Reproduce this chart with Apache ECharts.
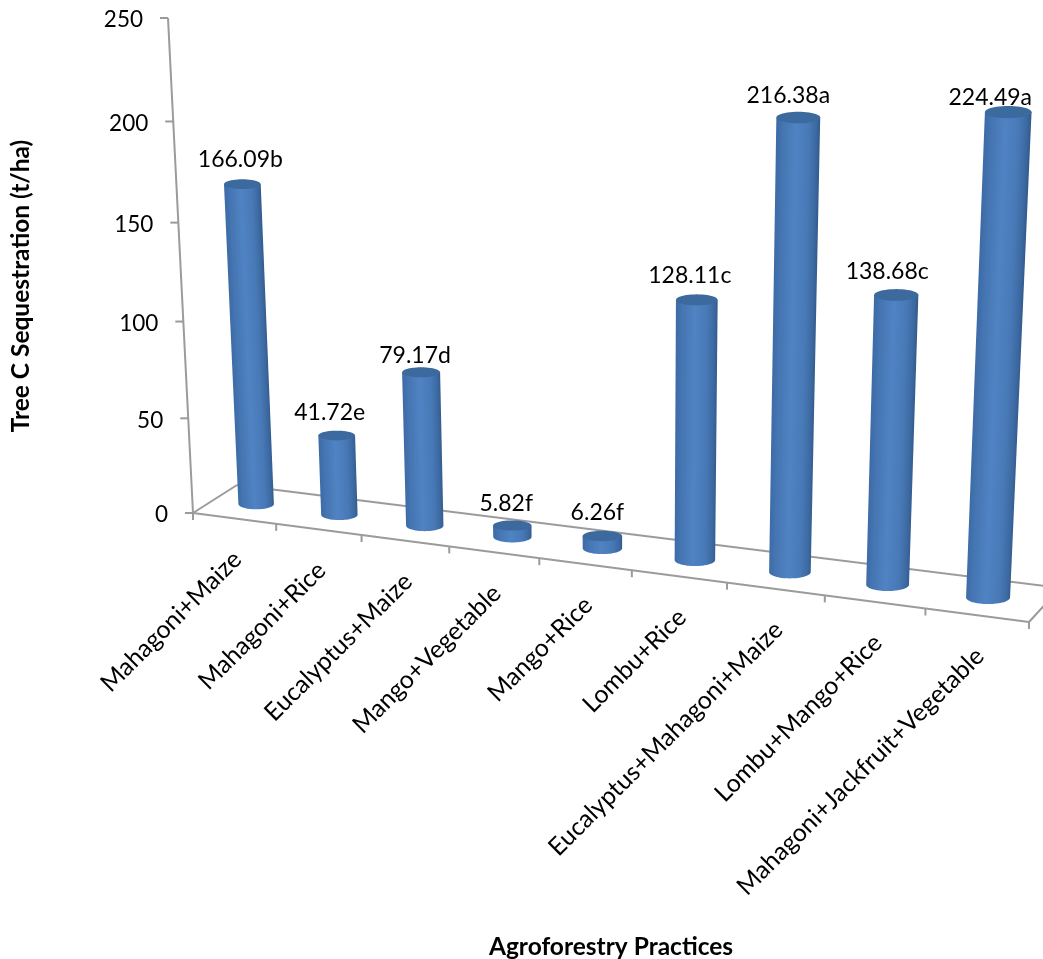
<!DOCTYPE html>
<html>
<head>
<meta charset="utf-8">
<title>Tree C Sequestration</title>
<style>
  html, body { margin: 0; padding: 0; background: #fff; overflow: hidden; }
  #chart { width: 1043px; height: 959px; }
</style>
<script src="https://cdn.jsdelivr.net/npm/echarts@6/dist/echarts.min.js"></script>
</head>
<body>
<div id="chart"></div>
<script>
// Chart data
const categories = [
  'Mahagoni+Maize', 'Mahagoni+Rice', 'Eucalyptus+Maize', 'Mango+Vegetable', 'Mango+Rice',
  'Lombu+Rice', 'Eucalyptus+Mahagoni+Maize', 'Lombu+Mango+Rice', 'Mahagoni+Jackfruit+Vegetable'
];
const carbonValues = [166.09, 41.72, 79.17, 5.82, 6.26, 128.11, 216.38, 138.68, 224.49];
const significance = ['b', 'e', 'd', 'f', 'f', 'c', 'a', 'c', 'a'];
const valueTicks = [0, 50, 100, 150, 200, 250];

// Three-point perspective: plot-space (u across, v depth, w height), each 0..1, to pixels.
const FRONT_LEFT = [193, 513], FRONT_RIGHT = [1029, 622], BACK_LEFT = [237, 485], TOP_LEFT = [168, 18];
const WEIGHT_U = -0.116, WEIGHT_V = 0.032, WEIGHT_W = -0.054;
function project(u, v, w) {
  const den = 1 + WEIGHT_U * u + WEIGHT_V * v + WEIGHT_W * w;
  const axis = k => FRONT_LEFT[k]
    + u * ((1 + WEIGHT_U) * FRONT_RIGHT[k] - FRONT_LEFT[k])
    + v * ((1 + WEIGHT_V) * BACK_LEFT[k] - FRONT_LEFT[k])
    + w * ((1 + WEIGHT_W) * TOP_LEFT[k] - FRONT_LEFT[k]);
  return [axis(0) / den, axis(1) / den];
}

const FONT = 'Lato, "Open Sans", sans-serif';
const LINE = { stroke: '#9b9b9b', lineWidth: 2, fill: null };
const AXIS_TICK = 8, TICK_SIZE = 22.5, CAPTION_SIZE = 23, NAME_SIZE = 24.8, TITLE_SIZE = 24.5;
const BAR_DEPTH = 0.5, BAR_RADIUS = 0.024, TOP_FLATNESS = 0.265, BASE_FLATNESS = 0.3;
const SIDE_EDGE_END = [1061, 587];
// Hand placement of the value captions relative to each bar's top
const captionShift = [[-2, -25], [-7, -23], [-6, -17], [-6, -22], [-5, -23], [-7, -24], [-10, -22], [-9, -23], [-18, -15]];

// Plot-space fractions from the hidden cartesian axes
function fractions(params, api, cat, value) {
  const cs = params.coordSys, p = api.coord([cat, value]);
  return { u: (p[0] - cs.x) / cs.width, w: (cs.y + cs.height - p[1]) / cs.height };
}
function segment(a, b, style) {
  return { type: 'line', shape: { x1: a[0], y1: a[1], x2: b[0], y2: b[1] }, style: style || LINE };
}

function renderFrame(params, api) {
  const children = [];
  const halfBand = api.size([1, 0])[0] / 2 / params.coordSys.width;
  const floorStart = fractions(params, api, 0, 0).u - halfBand;
  const floorEnd = fractions(params, api, categories.length - 1, 0).u + halfBand;
  const fl = project(floorStart, 0, 0), fr = project(floorEnd, 0, 0);
  const bl = project(floorStart, 1, 0), br = project(floorEnd, 1, 0);

  // Floor outline
  children.push(segment(bl, br), segment(fl, bl), segment(fr, SIDE_EDGE_END), segment(fl, fr));

  // Value axis along the left wall
  const top = fractions(params, api, 0, valueTicks[valueTicks.length - 1]).w;
  children.push(segment(fl, project(floorStart, 0, top)));
  valueTicks.forEach(t => {
    const p = project(floorStart, 0, fractions(params, api, 0, t).w);
    children.push(segment([p[0] - AXIS_TICK, p[1]], p));
    children.push({
      type: 'text', x: p[0] - AXIS_TICK - 17, y: p[1] + 2,
      style: { text: String(t), textAlign: 'right', textVerticalAlign: 'middle', fill: '#000', font: TICK_SIZE + 'px ' + FONT }
    });
  });

  // Category ticks and slanted names along the front edge
  categories.forEach((name, i) => {
    const mid = fractions(params, api, i, 0).u;
    const t = project(mid + halfBand, 0, 0);
    children.push(segment(t, [t[0], t[1] + 7]));
    const m = project(mid, 0, 0);
    children.push({
      type: 'text', x: m[0] + 3, y: m[1] + 37, rotation: Math.PI / 4,
      style: { text: name, textAlign: 'right', textVerticalAlign: 'middle', fill: '#000', font: NAME_SIZE + 'px ' + FONT }
    });
  });
  children.push(segment(fl, [fl[0], fl[1] + 7]));
  return { type: 'group', children };
}

function ellipsePoints(c, rx, ry, from, to, steps) {
  const pts = [];
  for (let s = 0; s <= steps; s++) {
    const t = from + (to - from) * s / steps;
    pts.push([c[0] + rx * Math.cos(t), c[1] + ry * Math.sin(t)]);
  }
  return pts;
}

function renderBar(params, api) {
  const cat = api.value(0), val = api.value(1);
  const { u, w } = fractions(params, api, cat, val);
  const top = project(u, BAR_DEPTH, w), base = project(u, BAR_DEPTH, 0);
  const radius = wv => (project(u + BAR_RADIUS, BAR_DEPTH, wv)[0] - project(u - BAR_RADIUS, BAR_DEPTH, wv)[0]) / 2;
  const rTop = radius(w), rBase = radius(0);

  // Cylinder wall: top rim across, then down and around the near half of the base
  const wall = [[top[0] - rTop, top[1]], [top[0] + rTop, top[1]]]
    .concat(ellipsePoints(base, rBase, rBase * BASE_FLATNESS, 0, Math.PI, 32));

  // Shading runs square to the leaning axis of the cylinder
  const ax = top[0] - base[0], ay = top[1] - base[1], len = Math.hypot(ax, ay) || 1;
  const nx = -ay / len, ny = ax / len;
  const mx = (top[0] + base[0]) / 2, my = (top[1] + base[1]) / 2, rm = (rTop + rBase) / 2;
  const wallFill = new echarts.graphic.LinearGradient(
    mx - nx * rm, my - ny * rm, mx + nx * rm, my + ny * rm,
    [
      { offset: 0, color: '#3c6ba6' }, { offset: 0.15, color: '#4575b2' },
      { offset: 0.45, color: '#5083c3' }, { offset: 0.75, color: '#4879b7' },
      { offset: 0.93, color: '#3b689f' }, { offset: 1, color: '#345b8e' }
    ], true);

  return {
    type: 'group',
    children: [
      { type: 'polygon', shape: { points: wall }, style: { fill: wallFill } },
      {
        type: 'polygon',
        shape: { points: ellipsePoints(top, rTop, rTop * TOP_FLATNESS, 0, Math.PI * 2, 48) },
        style: { fill: '#3c6a9f' }
      },
      {
        type: 'text',
        x: top[0] + captionShift[cat][0], y: top[1] + captionShift[cat][1],
        style: {
          text: val.toFixed(2) + significance[cat],
          textAlign: 'center', textVerticalAlign: 'middle', fill: '#000', font: CAPTION_SIZE + 'px ' + FONT
        }
      }
    ]
  };
}

const chart = echarts.init(document.getElementById('chart'), null, { renderer: 'canvas' });
chart.setOption({
  animation: false,
  backgroundColor: '#ffffff',
  grid: { left: 100, right: 100, top: 100, bottom: 300, show: false },
  xAxis: { type: 'category', data: categories, show: false },
  yAxis: { type: 'value', min: 0, max: 250, interval: 50, show: false },
  graphic: [
    {
      type: 'text', x: 21, y: 286, rotation: Math.PI / 2,
      style: { text: 'Tree C Sequestration (t/ha)', textAlign: 'center', textVerticalAlign: 'middle', fill: '#000', font: 'bold ' + TITLE_SIZE + 'px ' + FONT }
    },
    {
      type: 'text', x: 611, y: 947,
      style: { text: 'Agroforestry Practices', textAlign: 'center', textVerticalAlign: 'middle', fill: '#000', font: 'bold ' + TITLE_SIZE + 'px ' + FONT }
    }
  ],
  series: [
    { type: 'custom', name: 'frame', coordinateSystem: 'cartesian2d', clip: false, silent: true, data: [[0, 0]], renderItem: renderFrame, z: 1 },
    {
      type: 'custom', name: 'Tree C Sequestration', coordinateSystem: 'cartesian2d', clip: false, silent: true,
      data: carbonValues.map((v, i) => [i, v]), encode: { x: 0, y: 1 }, renderItem: renderBar, z: 2
    }
  ]
});
</script>
</body>
</html>
